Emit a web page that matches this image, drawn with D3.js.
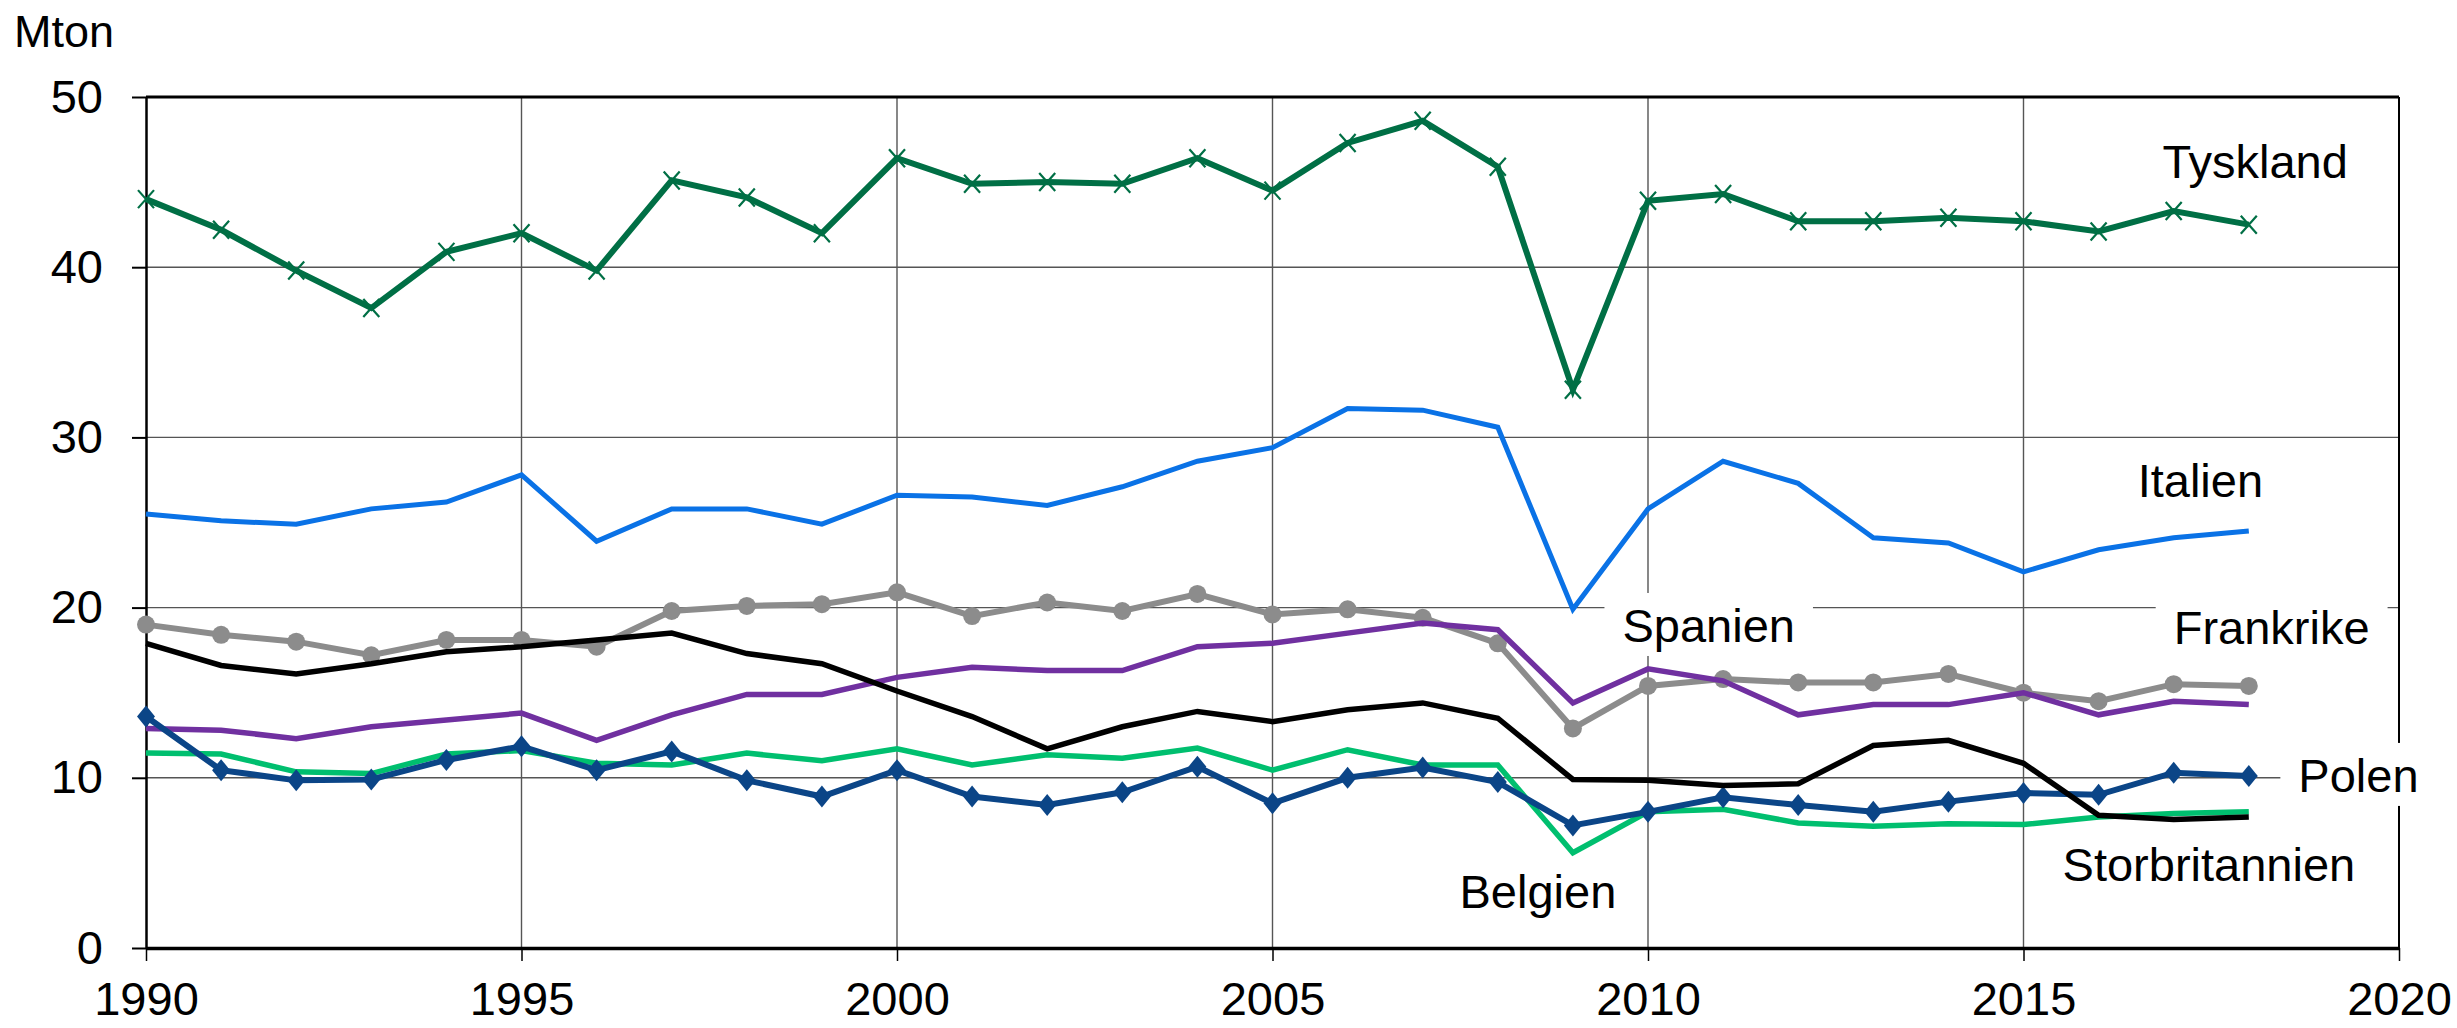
<!DOCTYPE html>
<html>
<head>
<meta charset="utf-8">
<script src="https://cdn.jsdelivr.net/npm/d3@7"></script>
<style>
  body { margin: 0; background: #fff; }
  text { font-family: "Liberation Sans", Arial, sans-serif; fill: #000; }
</style>
</head>
<body>
<svg id="chart"></svg>
<script>
// data (Mton)
const years = d3.range(1990, 2019);
const tyskland = [44.0, 42.2, 39.8, 37.6, 40.9, 42.0, 39.8, 45.1, 44.1, 42.0, 46.4, 44.9, 45.0, 44.9, 46.4, 44.5, 47.3, 48.6, 45.9, 32.8, 43.9, 44.3, 42.7, 42.7, 42.9, 42.7, 42.1, 43.3, 42.5];
const italien = [25.5, 25.1, 24.9, 25.8, 26.2, 27.8, 23.9, 25.8, 25.8, 24.9, 26.6, 26.5, 26.0, 27.1, 28.6, 29.4, 31.7, 31.6, 30.6, 19.9, 25.8, 28.6, 27.3, 24.1, 23.8, 22.1, 23.4, 24.1, 24.5];
const frankrike = [19.0, 18.4, 18.0, 17.2, 18.1, 18.1, 17.7, 19.8, 20.1, 20.2, 20.9, 19.5, 20.3, 19.8, 20.8, 19.6, 19.9, 19.4, 17.9, 12.9, 15.4, 15.8, 15.6, 15.6, 16.1, 15.0, 14.5, 15.5, 15.4];
const spanien = [12.9, 12.8, 12.3, 13.0, 13.4, 13.8, 12.2, 13.7, 14.9, 14.9, 15.9, 16.5, 16.3, 16.3, 17.7, 17.9, 18.5, 19.1, 18.7, 14.4, 16.4, 15.7, 13.7, 14.3, 14.3, 15.0, 13.7, 14.5, 14.3];
const storbritannien = [17.9, 16.6, 16.1, 16.7, 17.4, 17.7, 18.1, 18.5, 17.3, 16.7, 15.1, 13.6, 11.7, 13.0, 13.9, 13.3, 14.0, 14.4, 13.5, 9.9, 9.85, 9.55, 9.65, 11.9, 12.2, 10.85, 7.8, 7.55, 7.7];
const belgien = [11.45, 11.4, 10.35, 10.25, 11.4, 11.6, 10.85, 10.75, 11.45, 11.0, 11.7, 10.75, 11.35, 11.15, 11.75, 10.45, 11.65, 10.75, 10.75, 5.6, 8.0, 8.15, 7.35, 7.15, 7.3, 7.25, 7.7, 7.9, 8.0];
const polen = [13.6, 10.45, 9.85, 9.9, 11.05, 11.85, 10.45, 11.55, 9.85, 8.9, 10.45, 8.9, 8.4, 9.15, 10.65, 8.5, 10.0, 10.6, 9.75, 7.2, 8.0, 8.85, 8.4, 8.0, 8.6, 9.1, 9.0, 10.3, 10.1];

const yTicks = [0, 10, 20, 30, 40, 50];
const xTicks = [1990, 1995, 2000, 2005, 2010, 2015, 2020];

// label anchors in data units: [year, value] of the text's left baseline
const labels = [
  { name: "Tyskland", at: [2016.85, 45.25] },
  { name: "Italien", at: [2016.52, 26.5] },
  { name: "Spanien", at: [2009.66, 17.98] },
  { name: "Frankrike", at: [2017.0, 17.86] },
  { name: "Polen", at: [2018.66, 9.17] },
  { name: "Storbritannien", at: [2015.52, 3.94] },
  { name: "Belgien", at: [2007.49, 2.35] }
];

// drawing order matters: later series on top
const series = [
  { name: "Frankrike", values: frankrike, color: "#8c8c8c", width: 6, marker: "circle" },
  { name: "Spanien", values: spanien, color: "#7030a0", width: 5.5 },
  { name: "Belgien", values: belgien, color: "#00bf6f", width: 5.5 },
  { name: "Polen", values: polen, color: "#0b4587", width: 6, marker: "diamond" },
  { name: "Storbritannien", values: storbritannien, color: "#000000", width: 5.5 },
  { name: "Italien", values: italien, color: "#0a72e6", width: 5 },
  { name: "Tyskland", values: tyskland, color: "#006f45", width: 6, marker: "cross" }
];

const width = 2457, height = 1028;
const margin = { top: 97, right: 58, bottom: 80, left: 146 };

const svg = d3.select("#chart").attr("width", width).attr("height", height);

const x = d3.scaleLinear().domain([1990, 2020]).range([margin.left, width - margin.right]);
const y = d3.scaleLinear().domain([0, 50]).range([height - margin.bottom, margin.top]);

// grid
const grid = svg.append("g");
grid.selectAll("line.h")
  .data(yTicks.filter(d => d > 0 && d < 50))
  .join("line")
    .attr("x1", x(1990)).attr("x2", x(2020))
    .attr("y1", d => y(d)).attr("y2", d => y(d))
    .attr("stroke", "#555").attr("stroke-width", 1.4);
grid.selectAll("line.v")
  .data(xTicks.filter(d => d > 1990 && d < 2020))
  .join("line")
    .attr("x1", d => x(d)).attr("x2", d => x(d))
    .attr("y1", y(50)).attr("y2", y(0))
    .attr("stroke", "#555").attr("stroke-width", 1.4);

// frame
svg.append("line").attr("x1", x(1990)).attr("x2", x(2020)).attr("y1", y(50)).attr("y2", y(50))
  .attr("stroke", "#000").attr("stroke-width", 3);
svg.append("line").attr("x1", x(2020)).attr("x2", x(2020)).attr("y1", y(50)).attr("y2", y(0))
  .attr("stroke", "#000").attr("stroke-width", 2);

// axes
const yAxis = svg.append("g")
  .attr("transform", `translate(${x(1990)},0)`)
  .call(d3.axisLeft(y).tickValues(yTicks).tickSize(14).tickPadding(29).tickSizeOuter(0));
const xAxis = svg.append("g")
  .attr("transform", `translate(0,${y(0)})`)
  .call(d3.axisBottom(x).tickValues(xTicks).tickFormat(d3.format("d")).tickSize(13).tickPadding(21).tickSizeOuter(0));

yAxis.select(".domain").attr("stroke", "#000").attr("stroke-width", 2.5);
xAxis.select(".domain").attr("stroke", "#000").attr("stroke-width", 3.5);
yAxis.selectAll(".tick line").attr("stroke", "#000").attr("stroke-width", 2);
xAxis.selectAll(".tick line").attr("stroke", "#000").attr("stroke-width", 1.5);
svg.selectAll(".tick text")
  .attr("font-size", 47)
  .attr("font-family", '"Liberation Sans", Arial, sans-serif')
  .attr("fill", "#000");

svg.append("text")
  .attr("x", 14).attr("y", 47)
  .attr("font-size", 45)
  .text("Mton");

// label boxes (white, hide grid) then texts
const labelG = svg.append("g");
const labelTexts = labelG.selectAll("text")
  .data(labels)
  .join("text")
    .attr("x", d => x(d.at[0]))
    .attr("y", d => y(d.at[1]))
    .attr("font-size", 47)
    .text(d => d.name);

const boxes = svg.insert("g", () => labelG.node());
labelTexts.each(function (d) {
  const b = this.getBBox();
  boxes.append("rect")
    .attr("x", b.x - 18).attr("y", b.y - 6)
    .attr("width", b.width + 36).attr("height", b.height + 10)
    .attr("fill", "#fff");
});

// lines
const line = d3.line()
  .x((d, i) => x(years[i]))
  .y(d => y(d));

const seriesG = svg.insert("g", () => labelG.node());
series.forEach(function (s) {
  const g = seriesG.append("g");
  g.append("path")
    .datum(s.values)
    .attr("fill", "none")
    .attr("stroke", s.color)
    .attr("stroke-width", s.width)
    .attr("stroke-linejoin", "miter")
    .attr("d", line);

  if (s.marker === "circle") {
    g.selectAll("circle")
      .data(s.values)
      .join("circle")
        .attr("cx", (d, i) => x(years[i]))
        .attr("cy", d => y(d))
        .attr("r", 9)
        .attr("fill", s.color);
  } else if (s.marker === "diamond") {
    g.selectAll("path.m")
      .data(s.values)
      .join("path")
        .attr("class", "m")
        .attr("transform", (d, i) => `translate(${x(years[i])},${y(d)})`)
        .attr("d", "M0,-11L9,0L0,11L-9,0Z")
        .attr("fill", s.color);
  } else if (s.marker === "cross") {
    g.selectAll("path.m")
      .data(s.values)
      .join("path")
        .attr("class", "m")
        .attr("transform", (d, i) => `translate(${x(years[i])},${y(d)})`)
        .attr("d", "M-8,-9L8,9M-8,9L8,-9")
        .attr("stroke", s.color)
        .attr("stroke-width", 2.2);
  }
});
</script>
</body>
</html>
